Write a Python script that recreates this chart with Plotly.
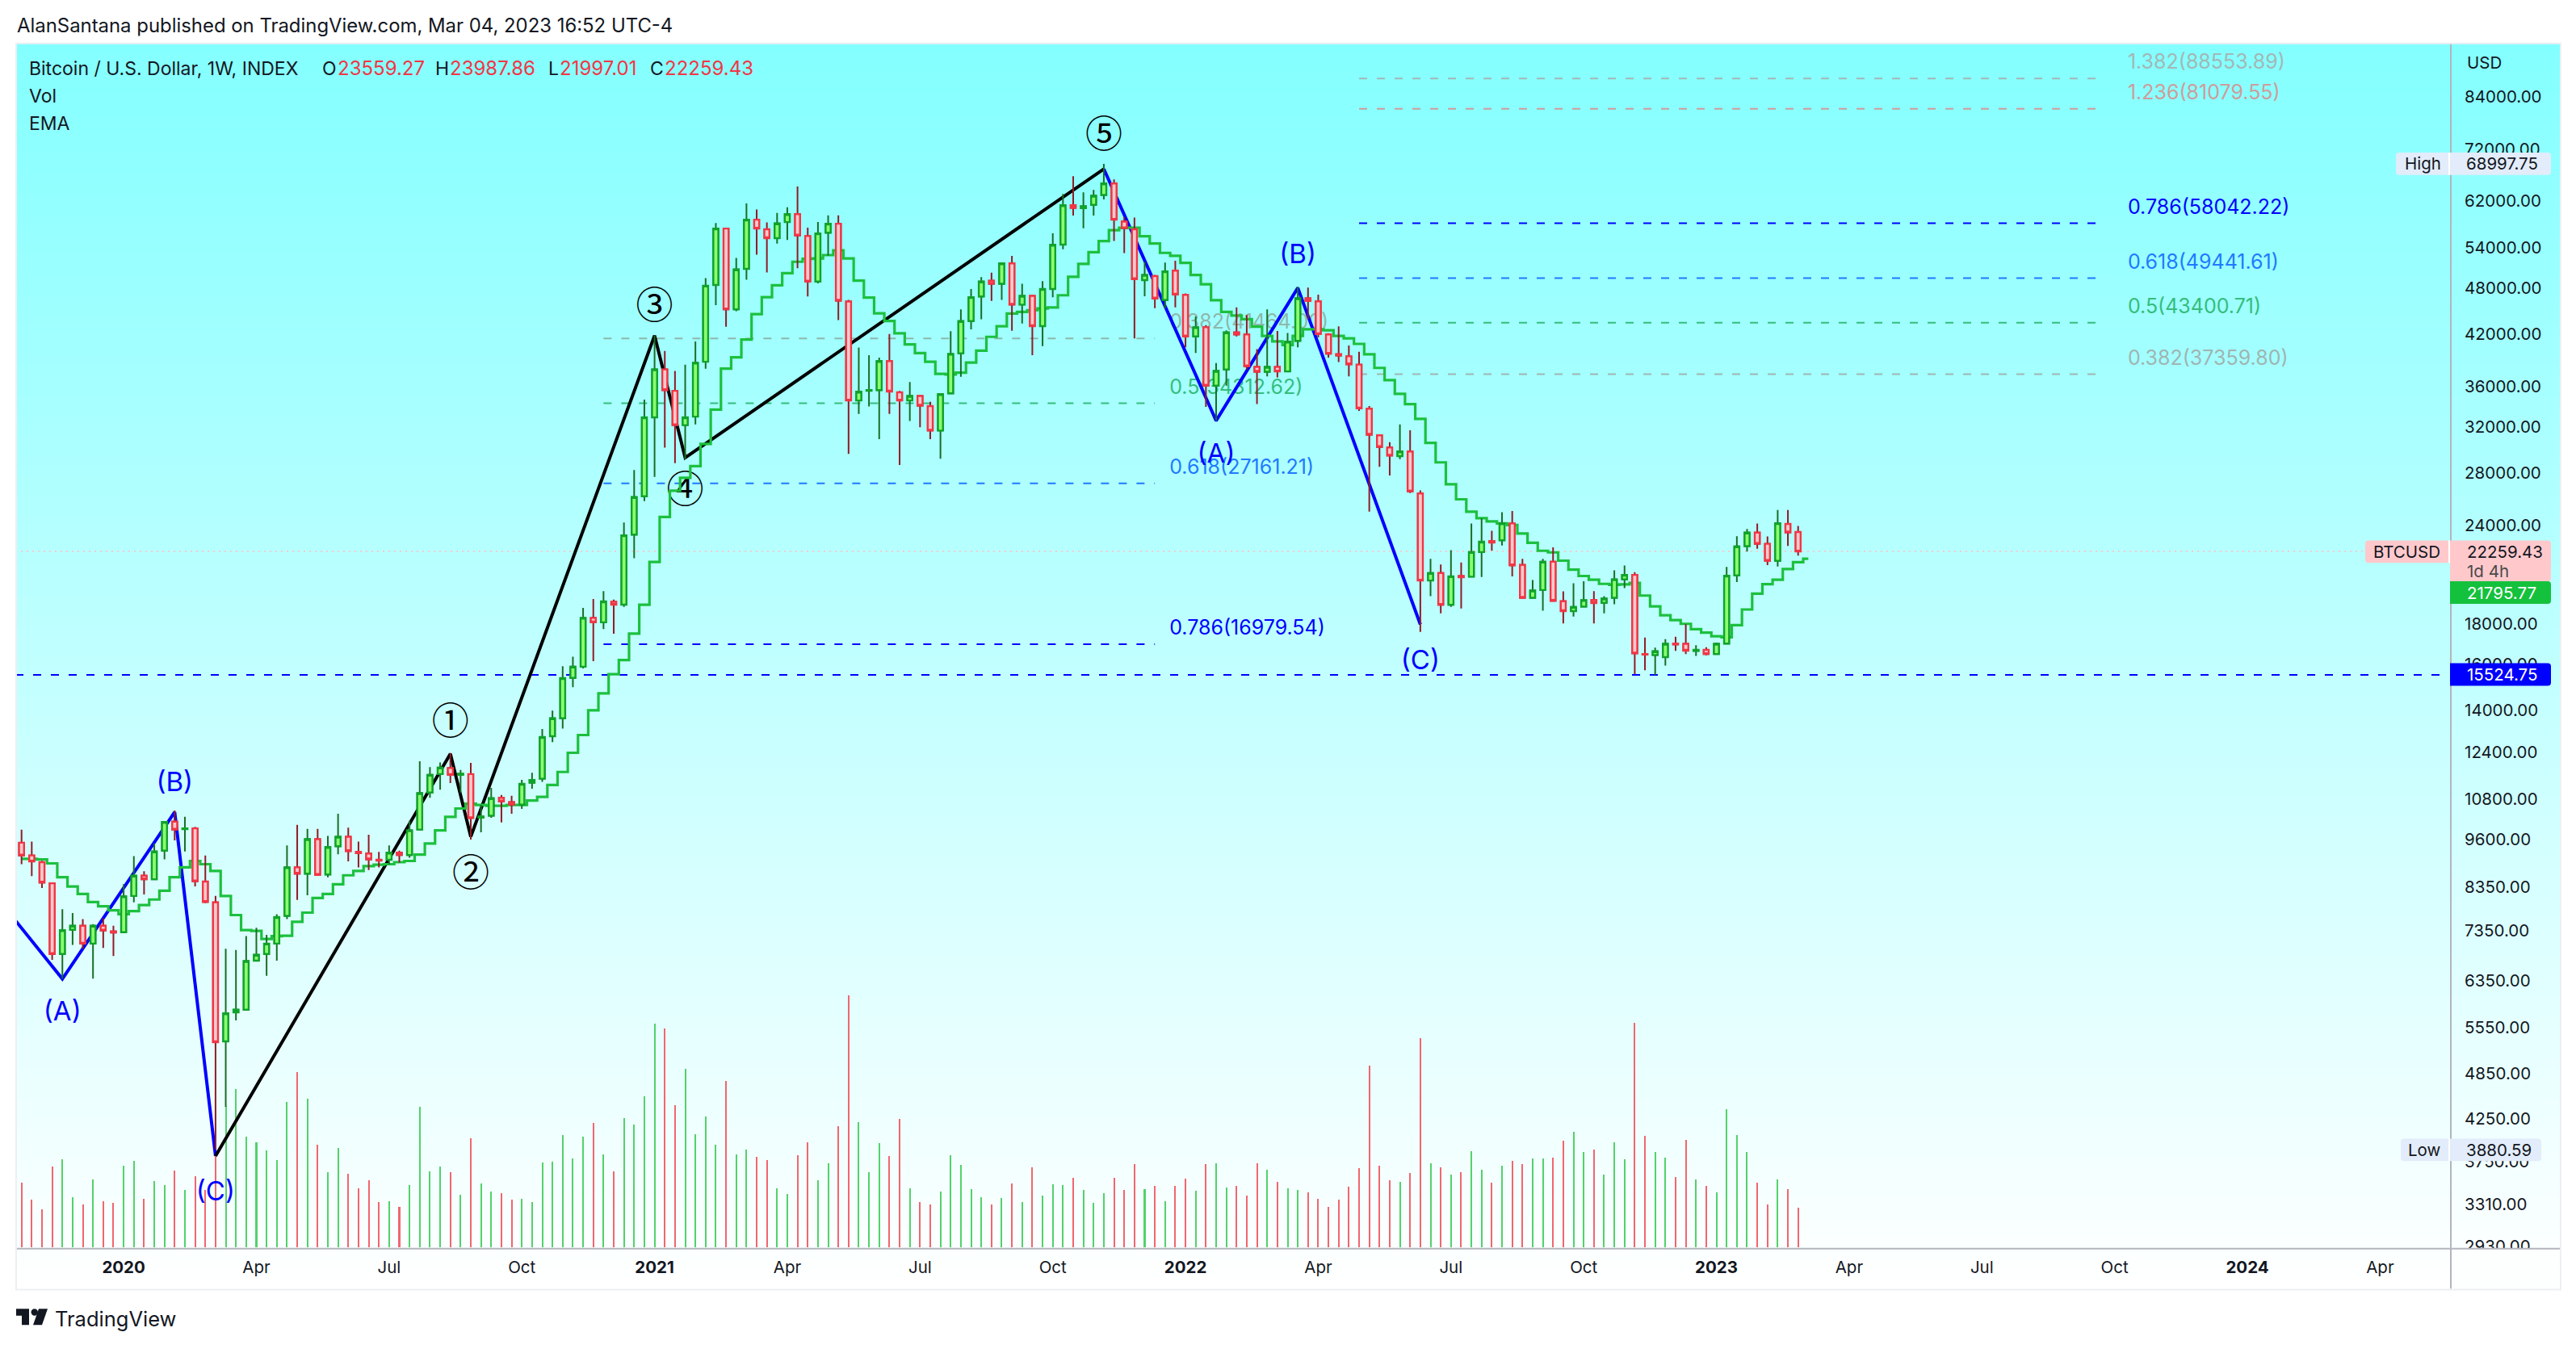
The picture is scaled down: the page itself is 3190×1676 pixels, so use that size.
import math
import pandas as pd
import plotly.graph_objects as go

# weekly bars
first_week = "2019-10-28"
opens = [9511, 9164, 8985, 8449, 6873, 7376, 7463, 7084, 7463, 7343,
         7325, 8141, 8638, 8548, 9292, 10115, 9895, 9917, 8490, 7991,
         5325, 5795, 5840, 6739, 6873, 7084, 7682, 8851, 8689, 9611,
         8668, 9412, 9678, 9260, 9217, 9049, 9049, 9239, 9175, 9883,
         11012, 11620, 11829, 11594, 11620, 10232, 10292, 10845, 10707, 10632,
         11332, 11465, 12980, 13675, 15390, 15900, 18334, 18100, 19220, 19060,
         23380, 26148, 32926, 37873, 35580, 32188, 32995, 38730, 48470, 57145,
         45140, 50810, 58641, 57020, 55567, 58230, 59596, 55900, 48950, 56460,
         57950, 46180, 34590, 35580, 35650, 38810, 35420, 34590, 35050, 34030,
         31680, 35320, 39700, 43610, 46870, 49060, 48630, 51620, 45760, 46940,
         42970, 47900, 54520, 61160, 60640, 61230, 63020, 65170, 58320, 57020,
         49150, 49730, 46400, 50540, 47090, 41700, 42830, 36120, 37870, 42200,
         41940, 38150, 37610, 38150, 37650, 41160, 46620, 46200, 41950, 39600,
         39350, 38410, 33770, 31240, 30150, 29400, 29800, 26370, 20450, 20900,
         19050, 20720, 20680, 22220, 22950, 23000, 24156, 21400, 19440, 19890,
         21600, 19250, 18700, 18950, 19320, 19160, 19440, 20520, 20790, 16500,
         16450, 16350, 17010, 17000, 16650, 16700, 16500, 17010, 20760, 22610,
         23520, 22760, 21660, 24120, 23559.27]
highs = [9880, 9544, 9025, 8466, 7835, 7745, 7611, 7498, 7629, 7463,
         8424, 9143, 8749, 9489, 10115, 10448, 10257, 9963, 9164, 8141,
         6977, 6953, 7241, 7420, 7266, 7718, 9435, 10021, 9905, 9905,
         9700, 10350, 9940, 9544, 9735, 9260, 9435, 9292, 10137, 12066,
         11856, 12020, 12360, 11760, 12010, 10620, 11163, 10932, 10907, 11425,
         11666, 13253, 13990, 15920, 16370, 18880, 19380, 19820, 19340, 24220,
         28226, 34670, 41790, 39980, 37710, 38400, 41090, 49440, 58080, 57260,
         52430, 61490, 60400, 58170, 59800, 60800, 64620, 57300, 58260, 59400,
         59400, 46400, 40360, 39480, 39190, 41990, 35560, 36510, 35100, 34450,
         35300, 42350, 45130, 47900, 49590, 50240, 51730, 52760, 48620, 47090,
         49000, 56360, 63200, 66590, 63500, 63950, 68997.75, 65950, 59100, 59000,
         51830, 49900, 51730, 52000, 47280, 44200, 43100, 38570, 42450, 45400,
         44400, 40180, 45130, 42370, 42130, 48200, 48100, 47100, 42100, 42950,
         40600, 39870, 34030, 31300, 30620, 32260, 31700, 26600, 21780, 21430,
         22340, 21560, 24156, 24530, 23640, 24960, 25050, 21780, 20480, 21780,
         22530, 19810, 20280, 20400, 19830, 19540, 21060, 21370, 20950, 17310,
         16810, 17230, 17350, 18000, 16930, 16830, 17060, 21280, 23270, 23770,
         24156, 23260, 25119, 25119, 23987.86]
lows = [8935, 8628, 8333, 6754, 6396, 7059, 6977, 6396, 6994, 6833,
        7325, 7991, 8179, 8530, 9059, 9578, 9271, 8371, 7973, 3880.59,
        4400, 5660, 5830, 6723, 6449, 6739, 7611, 8050, 8160, 8638,
        8598, 9196, 9005, 8851, 8779, 8851, 8933, 8975, 9100, 9883,
        10845, 11100, 11318, 11012, 9600, 9802, 10232, 10090, 10350, 10497,
        11137, 11358, 12755, 13275, 14975, 15820, 16160, 17750, 17510, 18930,
        21820, 25790, 27680, 30140, 28810, 29121, 32260, 37960, 45680, 42900,
        44890, 49200, 52940, 50270, 54700, 55270, 50900, 46860, 48700, 52770,
        43750, 29600, 33260, 34000, 30900, 33260, 28650, 32570, 31980, 30900,
        29180, 35240, 37060, 42570, 43850, 46250, 46400, 42400, 43300, 39470,
        40550, 46740, 53800, 59340, 57200, 59340, 62200, 55100, 53200, 41460,
        46900, 45300, 45300, 45400, 40400, 39740, 33960, 32610, 36120, 41700,
        37880, 34230, 37100, 37000, 37570, 40400, 43870, 41590, 39200, 38700,
        37100, 33560, 25000, 28500, 27780, 29150, 26400, 17600, 19530, 18580,
        18930, 18850, 20660, 20660, 22320, 22650, 20700, 19440, 19400, 18720,
        19230, 18040, 18410, 18920, 18040, 18580, 19080, 20000, 15560, 15740,
        15524.75, 15950, 16650, 16500, 16410, 16440, 16470, 17010, 20360, 22250,
        22430, 21390, 21300, 22620, 21997.01]
closes = [9164, 9005, 8466, 6873, 7368, 7463, 7084, 7463, 7360, 7317,
          8132, 8638, 8548, 9271, 10103, 9883, 9917, 8498, 8001, 5312,
          5780, 5840, 6731, 6857, 7084, 7656, 8851, 8689, 9611, 8658,
          9391, 9678, 9282, 9228, 9059, 9028, 9239, 9175, 9860, 10990,
          11594, 11843, 11594, 11634, 10220, 10268, 10831, 10732, 10632, 11293,
          11425, 12950, 13675, 15377, 15900, 18334, 18100, 19240, 19060, 23330,
          26090, 32926, 37873, 35656, 32188, 32926, 38614, 48360, 57145, 45140,
          50707, 58641, 57145, 55567, 58000, 59596, 56000, 48950, 56330, 57950,
          46290, 34590, 35490, 35650, 38810, 35500, 34590, 35050, 34070, 31680,
          35240, 39625, 43610, 46770, 48950, 48630, 51620, 45760, 46940, 42970,
          47900, 54500, 61160, 60700, 61000, 62890, 65170, 58641, 57200, 49300,
          49900, 46580, 50430, 47130, 41700, 42830, 36120, 37700, 42200, 41940,
          38230, 37610, 38150, 37650, 41058, 46620, 46250, 41990, 39650, 39440,
          38440, 33800, 31300, 30200, 29450, 29800, 26530, 20450, 20900, 19050,
          20700, 20650, 22220, 22900, 22850, 24156, 21380, 19440, 19860, 21600,
          19270, 18700, 18930, 19310, 19150, 19400, 20520, 20790, 16530, 16470,
          16630, 17000, 16970, 16660, 16700, 16500, 17000, 20740, 22590, 23520,
          22760, 21660, 24170, 23530, 22259.43]
ema_values = [9075, 9075, 9059, 8954, 8598, 8371, 8188, 8000, 7900, 7808,
              7718, 7790, 7927, 8057, 8265, 8598, 8851, 9017, 8933, 8759,
              8141, 7700, 7368, 7351, 7182, 7240, 7249, 7550, 7755, 8095,
              8188, 8424, 8648, 8759, 8882, 8920, 8933, 8985, 9017, 9185,
              9489, 9860, 10257, 10510, 10656, 10620, 10595, 10595, 10620, 10620,
              10757, 10870, 11255, 11693, 12366, 13025, 14001, 14712, 15558, 16210,
              17515, 19050, 21587, 24617, 26574, 27594, 28560, 30470, 33680, 37955,
              39240, 41320, 44510, 46770, 48410, 50160, 51860, 52310, 52370, 52880,
              53625, 52370, 49090, 46720, 44610, 43630, 42090, 40750, 39720, 38730,
              37390, 37310, 37510, 38640, 40010, 41650, 42970, 44580, 44800, 45020,
              45250, 45390, 47030, 49630, 51530, 53340, 55090, 56880, 57270, 57270,
              55870, 54700, 53220, 52770, 51700, 49894, 48570, 46350, 44800, 44320,
              43850, 42910, 41770, 41100, 40660, 41770, 42590, 42590, 42452, 41770,
              41460, 40800, 39580, 38040, 36700, 35260, 34226, 32780, 30560, 28870,
              27090, 25920, 25000, 24530, 24300, 24156, 24040, 23460, 22834, 22305,
              22200, 21670, 21110, 20720, 20500, 20250, 20190, 20220, 20310, 19570,
              18960, 18480, 18220, 18020, 17740, 17560, 17380, 17330, 17950, 18790,
              19680, 20230, 20500, 21150, 21570]
ema_last = 21795.77
volumes = [80, 59, 47, 100, 110, 62, 53, 84, 57, 55,
           101, 108, 60, 82, 77, 95, 71, 88, 71, 114,
           176, 197, 138, 131, 121, 109, 181, 218, 185, 128,
           93, 124, 91, 73, 83, 56, 57, 50, 77, 175,
           94, 100, 93, 65, 136, 79, 69, 67, 59, 60,
           56, 106, 107, 140, 111, 138, 155, 116, 94, 161,
           153, 188, 278, 272, 177, 222, 141, 163, 128, 207,
           116, 122, 113, 109, 73, 66, 115, 131, 83, 105,
           151, 314, 156, 93, 130, 114, 160, 73, 56, 53,
           69, 115, 103, 72, 62, 53, 61, 79, 56, 99,
           64, 78, 77, 86, 71, 55, 67, 86, 71, 104,
           72, 76, 57, 76, 85, 70, 104, 105, 74, 76,
           64, 105, 96, 81, 73, 71, 68, 60, 50, 59,
           75, 98, 226, 102, 83, 81, 92, 260, 105, 99,
           90, 93, 120, 96, 80, 101, 108, 104, 111, 111,
           112, 133, 144, 119, 122, 90, 131, 110, 279, 139,
           119, 112, 87, 134, 84, 76, 68, 172, 140, 119,
           80, 53, 84, 72, 49]

# wave lines
black_wave_x = ["2020-03-09", "2020-08-17", "2020-08-31", "2021-01-04", "2021-01-25", "2021-11-08"]
black_wave_y = [3810, 12330, 9680, 41800, 29270, 68000]
blue_wave1_x = ["2019-10-24", "2019-11-25", "2020-02-10", "2020-03-09"]
blue_wave1_y = [7570, 6390, 10400, 3810]
blue_wave2_x = ["2021-11-08", "2022-01-24", "2022-03-21", "2022-06-13"]
blue_wave2_y = [68000, 32610, 48050, 17990]

wave_text = ["①", "②", "③", "④", "⑤"]
wave_text_x = ["2020-08-17", "2020-08-31", "2021-01-04", "2021-01-25", "2021-11-08"]
wave_text_y = [13440, 8630, 45200, 26400, 74500]
abc_text = ["(A)", "(B)", "(C)", "(A)", "(B)", "(C)"]
abc_text_x = ["2019-11-25", "2020-02-10", "2020-03-09", "2022-01-24", "2022-03-21", "2022-06-13"]
abc_text_y = [5775, 11280, 3415, 29420, 52650, 16100]

# fib levels
fib1_names = ["0.382", "0.5", "0.618", "0.786"]
fib1_values = [41464.00, 34312.62, 27161.21, 16979.54]
fib1_x = ["2020-11-30", "2021-12-13"]
fib1_text_x = "2021-12-23"
fib2_names = ["0.382", "0.5", "0.618", "0.786", "1.236", "1.382"]
fib2_values = [37359.80, 43400.71, 49441.61, 58042.22, 81079.55, 88553.89]
fib2_x = ["2022-05-02", "2023-09-25"]
fib2_text_x = "2023-10-11"
fib1_colors = ["#8db8ab", "#35bd7c", "#1f7aff", "#0000ff"]
fib2_colors = ["#9fb5b2", "#35bd7c", "#1f7aff", "#0000ff", "#cf9c9c", "#a3b7b5"]

support = 15524.75
last_close = 22259.43

price_ticks = [84000, 72000, 62000, 54000, 48000, 42000, 36000, 32000, 28000, 24000,
               18000, 16000, 14000, 12400, 10800, 9600, 8350, 7350, 6350, 5550,
               4850, 4250, 3750, 3310, 2930]
time_ticks = ["2020-01-06", "2020-04-06", "2020-07-06", "2020-10-05", "2021-01-04", "2021-04-05",
              "2021-07-05", "2021-10-04", "2022-01-03", "2022-04-04", "2022-07-04", "2022-10-03",
              "2023-01-02", "2023-04-03", "2023-07-03", "2023-10-02", "2024-01-01", "2024-04-01"]
time_labels = ["<b>2020</b>", "Apr", "Jul", "Oct", "<b>2021</b>", "Apr", "Jul", "Oct",
               "<b>2022</b>", "Apr", "Jul", "Oct", "<b>2023</b>", "Apr", "Jul", "Oct",
               "<b>2024</b>", "Apr"]

W, H = 3190, 1676
FONT = "Inter"
DARK = "#131722"
RED = "#f23645"
GREEN = "#14c13c"
BLUE = "#0000ff"
PILL = "#e3ecfa"
PINK = "#ffc9cc"


def px(x):
    return x / W


def py(y):
    return 1 - y / H


dates = pd.date_range(first_week, periods=len(opens), freq="7D")
x_range = ["2019-10-23 18:00", "2024-05-19 12:00"]
price_range = [math.log10(2908), math.log10(98120)]
domain_x = [px(19), px(3035)]
domain_y = [py(1555), py(54)]

fig = go.Figure()

# volume goes lowest
vol_colors = ["#52d26b" if c >= o else "#f2666f" for o, c in zip(opens, closes)]
fig.add_trace(go.Bar(x=dates, y=volumes, marker=dict(color=vol_colors, line=dict(width=0)),
                     width=7 * 86400000 * 0.16, yaxis="y"))


def add_line(x, y, color, width, dash=None):
    fig.add_trace(go.Scatter(x=x, y=y, mode="lines", yaxis="y2",
                             line=dict(color=color, width=width, dash=dash)))


add_line([x_range[0], "2024-03-20"], [last_close, last_close], PINK, 2, "2px,5px")
add_line(["2019-10-23 18:00", "2024-05-14"], [support, support], BLUE, 2.2, "10px,12px")

for value, color in zip(fib1_values, fib1_colors):
    add_line(fib1_x, [value, value], color, 2, "10px,12px")
for value, color in zip(fib2_values, fib2_colors):
    add_line(fib2_x, [value, value], color, 2, "10px,12px")

for name, value, color in zip(fib1_names, fib1_values, fib1_colors):
    fig.add_trace(go.Scatter(x=[fib1_text_x], y=[value * 1.013], mode="text", yaxis="y2",
                             text=[f"{name}({value:.2f})"], textposition="top right",
                             textfont=dict(family=FONT, size=25, color=color)))
for name, value, color in zip(fib2_names, fib2_values, fib2_colors):
    fig.add_trace(go.Scatter(x=[fib2_text_x], y=[value * 1.013], mode="text", yaxis="y2",
                             text=[f"{name}({value:.2f})"], textposition="top right",
                             textfont=dict(family=FONT, size=25, color=color)))

fig.add_trace(go.Scatter(x=wave_text_x, y=wave_text_y, mode="text", yaxis="y2", text=wave_text,
                         textfont=dict(family="Noto Sans CJK JP", size=46, color="#000000")))
fig.add_trace(go.Scatter(x=abc_text_x, y=abc_text_y, mode="text", yaxis="y2", text=abc_text,
                         textfont=dict(family=FONT, size=33, color=BLUE)))

add_line(blue_wave1_x, blue_wave1_y, BLUE, 4)
add_line(blue_wave2_x, blue_wave2_y, BLUE, 4)
add_line(black_wave_x, black_wave_y, "#000000", 4)

ema_x = list(dates) + [dates[-1] + pd.Timedelta(days=7)]
fig.add_trace(go.Scatter(x=ema_x, y=ema_values + [ema_last], mode="lines", yaxis="y2",
                         line=dict(color="#1cc03e", width=3.2, shape="hvh")))

# candles on top: one trace for the dark wicks, one for the bodies
fig.add_trace(go.Candlestick(x=dates, open=opens, high=highs, low=lows, close=closes, yaxis="y3",
                             increasing=dict(line=dict(color="#1a6e25", width=2), fillcolor="#8cff70"),
                             decreasing=dict(line=dict(color="#8f1c26", width=2), fillcolor=PINK)))
fig.add_trace(go.Candlestick(x=dates, open=opens, close=closes,
                             high=[max(o, c) for o, c in zip(opens, closes)],
                             low=[min(o, c) for o, c in zip(opens, closes)], yaxis="y3",
                             increasing=dict(line=dict(color="#10a32a", width=2.4), fillcolor="#8cff70"),
                             decreasing=dict(line=dict(color=RED, width=2.4), fillcolor=PINK)))

# background gradient, cyan to white
shapes = []
bands = 124
top, bottom = 54, 1605
for i in range(bands):
    y0 = top + (bottom - top) * i / bands
    y1 = top + (bottom - top) * (i + 1) / bands + 1
    r = round(132 + 123 * (i + 0.5) / bands)
    shapes.append(dict(type="rect", xref="paper", yref="paper", layer="below", x0=px(20), x1=px(3170),
                       y0=py(y0), y1=py(min(y1, bottom)), fillcolor=f"rgb({r},255,255)", line=dict(width=0)))


def box(x0, y0, x1, y1, color, layer="above"):
    shapes.append(dict(type="rect", xref="paper", yref="paper", layer=layer, x0=px(x0), x1=px(x1),
                       y0=py(y0), y1=py(y1), fillcolor=color, line=dict(width=0)))


def pill(x0, y0, x1, y1, color, left=True, right=True, r=4):
    # rect with rounded corners on the sides asked for
    a, b = (r, r) if left else (0, 0)
    c, d = (r, r) if right else (0, 0)
    pts = [f"M {px(x0 + a)},{py(y0)}", f"L {px(x1 - c)},{py(y0)}", f"Q {px(x1)},{py(y0)} {px(x1)},{py(y0 + d)}",
           f"L {px(x1)},{py(y1 - d)}", f"Q {px(x1)},{py(y1)} {px(x1 - c)},{py(y1)}", f"L {px(x0 + a)},{py(y1)}",
           f"Q {px(x0)},{py(y1)} {px(x0)},{py(y1 - b)}", f"L {px(x0)},{py(y0 + b)}",
           f"Q {px(x0)},{py(y0)} {px(x0 + a)},{py(y0)} Z"]
    shapes.append(dict(type="path", xref="paper", yref="paper", layer="above", path=" ".join(pts),
                       fillcolor=color, line=dict(width=0)))


# hides the bottom half of the last price tick
box(3037, 1555, 3169, 1605, "#fdfefe")
box(21, 1554, 3170, 1556, "#b2b5be")
box(3034, 54, 3036, 1605, "#b2b5be")
pill(2967, 190, 3032, 218, PILL, right=False)
box(3032, 190, 3034, 218, "#ffffff")
pill(3034, 190, 3159, 218, PILL, left=False)
pill(2929, 673, 3032, 701, PINK, right=False)
box(3032, 673, 3034, 701, "#ffffff")
pill(3034, 673, 3159, 724, PINK, left=False)
pill(3034, 724, 3159, 752, GREEN, left=False)
pill(3034, 826, 3159, 854, BLUE, left=False)
pill(2973, 1418, 3032, 1446, PILL, right=False)
box(3032, 1418, 3034, 1446, "#ffffff")
pill(3034, 1418, 3147, 1446, PILL, left=False)
shapes.append(dict(type="rect", xref="paper", yref="paper", layer="above", x0=px(20), x1=px(3171),
                   y0=py(54), y1=py(1606), line=dict(color="#eeeff4", width=2)))

# TradingView logo
logo = [
    [(20, 1630), (36, 1630), (36, 1650), (27, 1650), (27, 1638.5), (20, 1638.5)],
    [(48, 1630), (59, 1630), (52, 1650), (41, 1650)],
]
for poly in logo:
    path = "M " + " L ".join(f"{px(a)},{py(b)}" for a, b in poly) + " Z"
    shapes.append(dict(type="path", xref="paper", yref="paper", layer="above", path=path,
                       fillcolor=DARK, line=dict(width=0)))
shapes.append(dict(type="circle", xref="paper", yref="paper", layer="above", x0=px(38.5), x1=px(47),
                   y0=py(1630), y1=py(1638.5), fillcolor=DARK, line=dict(width=0)))

annotations = []


def label(x, y, text, color=DARK, size=20.5, anchor="left"):
    annotations.append(dict(xref="paper", yref="paper", x=px(x), y=py(y), text=text, showarrow=False,
                            xanchor=anchor, yanchor="middle", align=anchor,
                            font=dict(family=FONT, size=size, color=color), borderpad=0))


label(20, 32, "AlanSantana published on TradingView.com, Mar 04, 2023 16:52 UTC-4", size=23.9)
label(35, 85, "Bitcoin / U.S. Dollar, 1W, INDEX", size=23)
label(398, 85, "O", size=23)
label(417, 85, "23559.27", color=RED, size=24)
label(538, 85, "H", size=23)
label(556, 85, "23987.86", color=RED, size=24)
label(678, 85, "L", size=23)
label(692, 85, "21997.01", color=RED, size=24)
label(804, 85, "C", size=23)
label(822, 85, "22259.43", color=RED, size=24)
label(35, 120, "Vol", size=23)
label(35, 154, "EMA", size=23)
label(67, 1642, "TradingView", size=25.5)
label(3054, 78, "USD")
label(3000, 204, "High", anchor="center")
label(3053, 204, "68997.75")
label(2980, 687, "BTCUSD", anchor="center")
label(3054, 687, "22259.43")
label(3054, 711, "1d 4h", color="#4a4a4a")
label(3054, 738, "21795.77", color="#ffffff")
label(3054, 840, "15524.75", color="#ffffff")
label(3002, 1432, "Low", anchor="center")
label(3053, 1432, "3880.59")

fig.update_layout(
    width=W, height=H,
    margin=dict(l=0, r=0, t=0, b=0),
    paper_bgcolor="#ffffff", plot_bgcolor="rgba(0,0,0,0)",
    showlegend=False,
    bargap=0,
    shapes=shapes,
    annotations=annotations,
    xaxis=dict(domain=domain_x, range=x_range, type="date", rangeslider=dict(visible=False),
               tickmode="array", tickvals=time_ticks, ticktext=time_labels,
               tickfont=dict(family=FONT, size=20.5, color=DARK),
               ticks="outside", ticklen=5, tickcolor="rgba(0,0,0,0)", showgrid=False, zeroline=False),
    yaxis=dict(domain=domain_y, range=[-2, 1499], visible=False, fixedrange=True),
    yaxis2=dict(domain=domain_y, overlaying="y", type="log", range=price_range, visible=False),
    yaxis3=dict(domain=domain_y, overlaying="y", type="log", range=price_range, side="right", anchor="x",
                tickmode="array", tickvals=price_ticks, ticktext=[f"{t:.2f}" for t in price_ticks],
                tickfont=dict(family=FONT, size=20.5, color=DARK),
                ticks="outside", ticklen=12, tickcolor="rgba(0,0,0,0)", showgrid=False, zeroline=False),
)

fig.write_html("out.html", config=dict(displayModeBar=False),
               post_script="document.body.style.margin='0';")
